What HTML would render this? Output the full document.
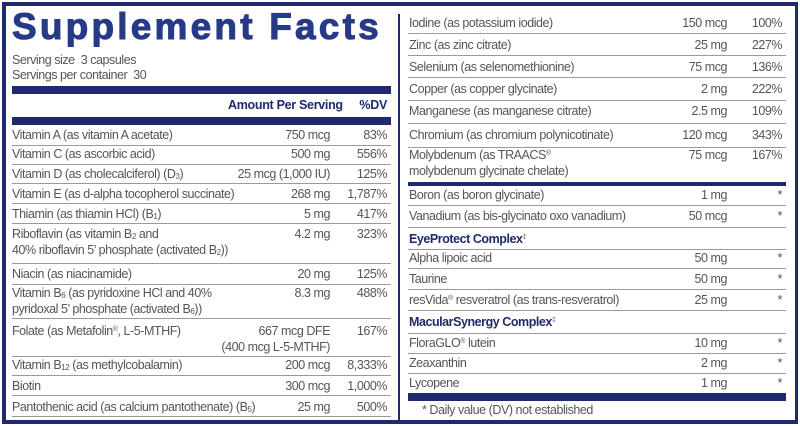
<!DOCTYPE html>
<html><head><meta charset="utf-8"><style>
*{margin:0;padding:0;box-sizing:border-box}
body{width:800px;height:426px;background:#fff;position:relative;overflow:hidden;font-family:"Liberation Sans",Arial,sans-serif;color:#555}
.b{position:absolute;background:#1f2a6e}
.s{position:absolute;height:1px;background:#9a9a9a}
.t{position:absolute;font-size:12.5px;line-height:16px;letter-spacing:-0.45px;white-space:nowrap}
.r{text-align:right}
.h{color:#1f2a6e;font-weight:bold;letter-spacing:-0.3px}
sub{font-size:8px;vertical-align:-1px;line-height:0}
sup{font-size:7px;vertical-align:4px;line-height:0}
</style></head><body>
<div class="b" style="left:2px;top:2px;width:796px;height:4px"></div>
<div class="b" style="left:2px;top:420px;width:796px;height:4px"></div>
<div class="b" style="left:2px;top:2px;width:4px;height:422px"></div>
<div class="b" style="left:795px;top:2px;width:3px;height:422px"></div>
<div class="b" style="left:398px;top:14px;width:2px;height:406px"></div>

<div style="position:absolute;left:12px;top:8px;font-size:37px;font-weight:bold;color:#263a87;letter-spacing:3.2px;line-height:37px;white-space:nowrap;-webkit-text-stroke:1px #263a87">Supplement Facts</div>
<div class="t" style="left:12px;top:52px">Serving size&nbsp; 3 capsules</div>
<div class="t" style="left:12px;top:67px">Servings per container&nbsp; 30</div>
<div class="b" style="left:12px;top:86px;width:379px;height:8px"></div>
<div class="t h" style="left:228px;top:97px">Amount Per Serving</div>
<div class="t h r" style="left:330px;width:57px;top:97px">%DV</div>
<div class="b" style="left:12px;top:117px;width:379px;height:8px"></div>

<div class="b" style="left:408px;top:393px;width:378px;height:8px"></div>
<div class="t" style="left:422px;top:402px">* Daily value (DV) not established</div>

<script>
function add(x,y,w,html,cls){var d=document.createElement('div');d.className='t '+(cls||'');d.style.left=x+'px';d.style.top=(y-8)+'px';if(w)d.style.width=w+'px';d.innerHTML=html;document.body.appendChild(d);}
function sep(x,y,w){var d=document.createElement('div');d.className='s';d.style.left=x+'px';d.style.top=y+'px';d.style.width=w+'px';document.body.appendChild(d);}
var L=[
[135,'Vitamin A (as vitamin A acetate)','750 mcg','83%',145],
[154,'Vitamin C (as ascorbic acid)','500 mg','556%',164],
[174,'Vitamin D (as cholecalciferol) (D<sub>3</sub>)','25 mcg (1,000 IU)','125%',183],
[194,'Vitamin E (as d-alpha tocopherol succinate)','268 mg','1,787%',203],
[214,'Thiamin (as thiamin HCl) (B<sub>1</sub>)','5 mg','417%',223],
[234,'Riboflavin (as vitamin B<sub>2</sub> and<br>40% riboflavin 5\u2019 phosphate (activated B<sub>2</sub>))','4.2 mg','323%',263],
[274,'Niacin (as niacinamide)','20 mg','125%',284],
[293,'Vitamin B<sub>6</sub> (as pyridoxine HCl and 40%<br>pyridoxal 5\u2019 phosphate (activated B<sub>6</sub>))','8.3 mg','488%',318],
[331,'Folate (as Metafolin<sup>®</sup>, L-5-MTHF)','667 mcg DFE<br>(400 mcg L-5-MTHF)','167%',356],
[365,'Vitamin B<sub>12</sub> (as methylcobalamin)','200 mcg','8,333%',375],
[386,'Biotin','300 mcg','1,000%',395],
[407,'Pantothenic acid (as calcium pantothenate) (B<sub>5</sub>)','25 mg','500%',416]];
L.forEach(function(r){add(12,r[0],0,r[1]);add(180,r[0],150,r[2],'r');add(330,r[0],57,r[3],'r');sep(12,r[4],379);});
var R=[
[23,'Iodine (as potassium iodide)','150 mcg','100%',33],
[45,'Zinc (as zinc citrate)','25 mg','227%',55],
[67,'Selenium (as selenomethionine)','75 mcg','136%',77],
[89,'Copper (as copper glycinate)','2 mg','222%',100],
[111,'Manganese (as manganese citrate)','2.5 mg','109%',123],
[135,'Chromium (as chromium polynicotinate)','120 mcg','343%',147],
[155,'Molybdenum (as TRAACS<sup>®</sup><br>molybdenum glycinate chelate)','75 mcg','167%',0],
[195,'Boron (as boron glycinate)','1 mg','*',205],
[216,'Vanadium (as bis-glycinato oxo vanadium)','50 mcg','*',227],
[239,'<span style="color:#1f2a6e;font-weight:bold">EyeProtect Complex</span><sup>‡</sup>','','',249],
[258,'Alpha lipoic acid','50 mg','*',268],
[279,'Taurine','50 mg','*',289],
[300,'resVida<sup>®</sup> resveratrol (as trans-resveratrol)','25 mg','*',310],
[322,'<span style="color:#1f2a6e;font-weight:bold">MacularSynergy Complex</span><sup>‡</sup>','','',333],
[343,'FloraGLO<sup>®</sup> lutein','10 mg','*',353],
[363,'Zeaxanthin','2 mg','*',373],
[383,'Lycopene','1 mg','*',0]];
R.forEach(function(r){add(409,r[0],0,r[1]);add(580,r[0],147,r[2],'r');add(730,r[0],52,r[3],'r');if(r[4])sep(408,r[4],378);});
</script>
<div class="b" style="left:408px;top:182px;width:378px;height:4px"></div>
</body></html>
